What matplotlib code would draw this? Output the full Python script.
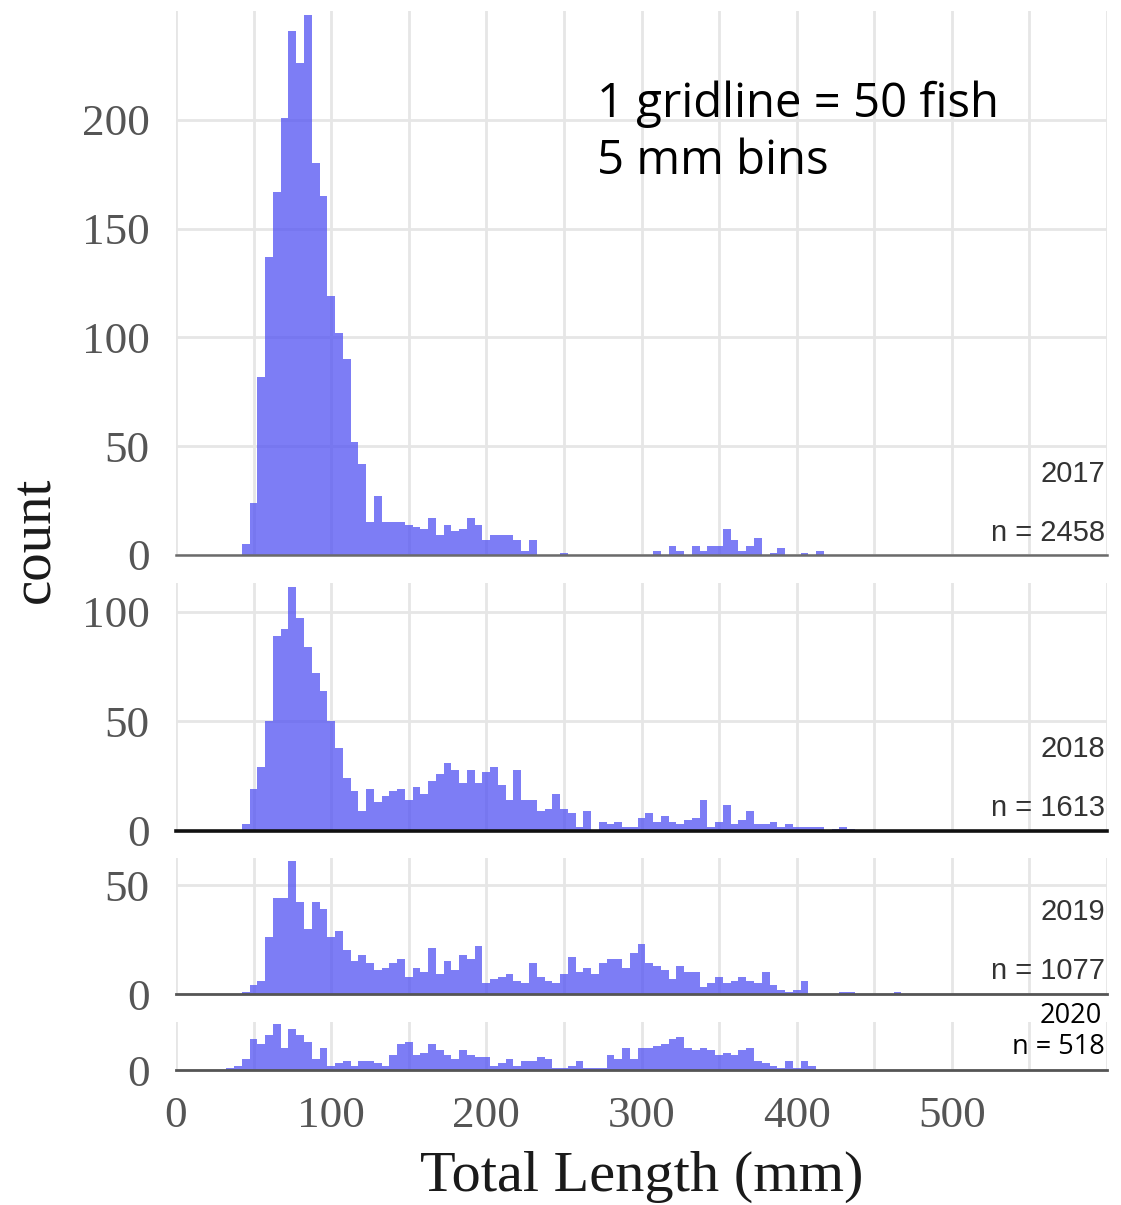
import numpy as np
import matplotlib
matplotlib.use('Agg')
import matplotlib.pyplot as plt

# 5 mm bins, centres from 35 to 470 mm
bin_centers = list(range(35, 475, 5))

counts_2017 = [0, 0, 5, 24, 82, 137, 167, 201, 241, 226,
               248, 180, 165, 119, 102, 90, 52, 42, 15, 27,
               15, 15, 15, 14, 13, 12, 17, 9, 14, 11,
               12, 17, 14, 7, 9, 9, 9, 7, 2, 7,
               0, 0, 0, 1, 0, 0, 0, 0, 0, 0,
               0, 0, 0, 0, 0, 2, 0, 4, 2, 0,
               4, 2, 4, 4, 12, 7, 2, 4, 8, 0,
               1, 3, 0, 0, 1, 0, 2, 0, 0, 0,
               0, 0, 0, 0, 0, 0, 0, 0]

counts_2018 = [0, 0, 3, 19, 29, 50, 89, 92, 111, 97,
               84, 72, 64, 50, 38, 24, 18, 9, 19, 13,
               16, 18, 19, 14, 20, 17, 23, 26, 31, 28,
               22, 28, 22, 27, 29, 21, 14, 28, 14, 14,
               9, 10, 17, 10, 8, 2, 9, 0, 4, 3,
               4, 2, 2, 6, 8, 4, 7, 4, 3, 5,
               6, 14, 2, 4, 12, 3, 5, 9, 3, 3,
               4, 2, 3, 2, 2, 2, 2, 0, 1, 2,
               1, 0, 0, 0, 0, 0, 0, 0]

counts_2019 = [0, 0, 1, 4, 6, 26, 44, 44, 61, 42,
               30, 42, 39, 26, 29, 20, 15, 18, 14, 11,
               12, 14, 16, 8, 12, 10, 21, 9, 15, 11,
               18, 16, 22, 5, 7, 8, 9, 6, 5, 14,
               8, 6, 5, 9, 17, 10, 12, 9, 14, 16,
               16, 12, 19, 23, 14, 13, 11, 7, 13, 10,
               10, 3, 5, 8, 5, 6, 8, 6, 5, 10,
               4, 2, 1, 2, 6, 0, 0, 0, 0, 1,
               1, 0, 0, 0, 0, 0, 1, 0]

counts_2020 = [1, 2, 5, 14, 12, 16, 21, 10, 19, 16,
               13, 5, 10, 2, 3, 4, 2, 4, 4, 3,
               2, 7, 12, 13, 7, 8, 12, 9, 7, 5,
               9, 7, 6, 6, 2, 3, 5, 2, 4, 4,
               6, 5, 1, 1, 2, 4, 1, 1, 1, 7,
               5, 10, 5, 10, 10, 11, 12, 14, 15, 10,
               9, 10, 9, 7, 8, 7, 9, 10, 4, 3,
               2, 1, 4, 1, 4, 2, 0, 0, 0, 0,
               0, 0, 0, 0, 0, 0, 0, 0]

years = ['2017', '2018', '2019', '2020']
n_labels = ['n = 2458', 'n = 1613', 'n = 1077', 'n = 518']
y_tick_sets = [[0, 50, 100, 150, 200], [0, 50, 100], [0, 50], [0]]
x_tick_labels = [0, 100, 200, 300, 400, 500]
all_counts = [counts_2017, counts_2018, counts_2019, counts_2020]

W, H = 1121, 1205
fig = plt.figure(figsize=(W / 100, H / 100), dpi=100)
fig.patch.set_facecolor('white')

# panel pixel extents (top, zero-line) and y-limits
panel_px = [(11, 555), (583, 831), (858, 994), (1022, 1070)]
y_tops = [250, 113, 62.4, 22]
base_colors = ['#6b6b6b', '#111111', '#555555', '#555555']
base_lw = [1.8, 2.6, 2.0, 2.0]

serif = ['Liberation Serif', 'DejaVu Serif']
tick_color = '#555555'
bar_color = '#5454F2'
grid_color = '#E6E6E6'

x_grid = np.arange(0, 601, 50)
axes = []
for i in range(4):
    top, bot = panel_px[i]
    ax = fig.add_axes([176 / W, 1 - bot / H, (1107 - 176) / W, (bot - top) / H])
    axes.append(ax)
    ax.set_facecolor('white')
    ax.bar(bin_centers, all_counts[i], width=5, color=bar_color, alpha=0.76,
           linewidth=0, zorder=2)
    ax.set_xlim(0, 600)
    ax.set_ylim(0, y_tops[i])
    for s in ax.spines.values():
        s.set_visible(False)
    ax.set_yticks(y_tick_sets[i])
    ax.set_yticklabels([str(v) for v in y_tick_sets[i]], family=serif,
                       fontsize=32.5, color=tick_color)
    ax.set_xticks(x_grid)
    if i == 3:
        ax.set_xticklabels([str(v) if v in x_tick_labels else '' for v in x_grid],
                           family=serif, fontsize=32.5, color=tick_color)
    else:
        ax.set_xticklabels([])
    ax.tick_params(axis='both', length=0)
    ax.tick_params(axis='y', pad=19)
    ax.tick_params(axis='x', pad=19)
    ax.grid(True, color=grid_color, linewidth=2.0, zorder=0)
    ax.set_axisbelow(True)
    ax.axhline(0, color=base_colors[i], linewidth=base_lw[i], zorder=3, clip_on=False)

# year and n labels
label_kw = dict(family=['Liberation Sans', 'DejaVu Sans'], fontsize=21,
                color='#333333', ha='right', va='center')
fig.text(1105 / W, 1 - 474 / H, years[0], **label_kw)
fig.text(1105 / W, 1 - 533 / H, n_labels[0], **label_kw)
fig.text(1105 / W, 1 - 749 / H, years[1], **label_kw)
fig.text(1105 / W, 1 - 808 / H, n_labels[1], **label_kw)
fig.text(1105 / W, 1 - 912 / H, years[2], **label_kw)
fig.text(1105 / W, 1 - 971 / H, n_labels[2], **label_kw)
osans = ['Open Sans', 'DejaVu Sans']
fig.text(1102 / W, 1 - 1016 / H, years[3], family=osans, fontsize=19.5,
         color='black', ha='right', va='center')
fig.text(1105 / W, 1 - 1047 / H, n_labels[3], family=osans, fontsize=19.5,
         color='black', ha='right', va='center')

# annotation
fig.text(597 / W, 1 - 104 / H, '1 gridline = 50 fish', family=osans, fontsize=34,
         color='black', ha='left', va='center')
fig.text(597 / W, 1 - 161 / H, '5 mm bins', family=osans, fontsize=34,
         color='black', ha='left', va='center')

# axis titles
fig.text(35 / W, 1 - 540 / H, 'count', family=serif, fontsize=41, rotation=90,
         color='#1a1a1a', ha='center', va='center')
fig.text(642 / W, 1 - 1177 / H, 'Total Length (mm)', family=serif, fontsize=42,
         color='#1a1a1a', ha='center', va='center')

fig.savefig('out.png', dpi=100, facecolor='white')
